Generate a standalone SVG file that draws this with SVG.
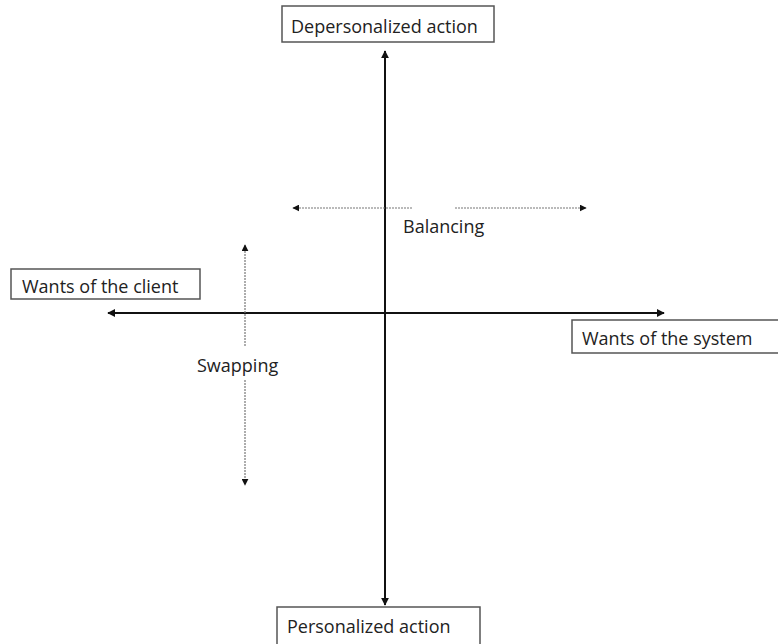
<svg xmlns="http://www.w3.org/2000/svg" width="778" height="644" viewBox="0 0 778 644">
<defs>
<style>
.box{fill:#fff;stroke:#555;stroke-width:1.5}
.lbl{font-family:"Open Sans","Noto Sans",sans-serif;font-size:18px;fill:#222}
.axis{stroke:#111;stroke-width:2;fill:none}
.thin{stroke:#777;stroke-width:1.2;stroke-dasharray:2 1;fill:none}
</style>
<marker id="ah" viewBox="0 0 10 10" refX="9" refY="5" markerWidth="8" markerHeight="8" markerUnits="userSpaceOnUse" orient="auto-start-reverse"><path d="M0,0 L10,5 L0,10 z" fill="#111"/></marker>
<marker id="ah2" viewBox="0 0 10 10" refX="9" refY="5" markerWidth="7" markerHeight="7" markerUnits="userSpaceOnUse" orient="auto-start-reverse"><path d="M0,0 L10,5 L0,10 z" fill="#111"/></marker>
</defs>
<rect width="778" height="644" fill="#fff"/>
<g id="connectors">
<line class="axis" x1="385" y1="51" x2="385" y2="605" marker-start="url(#ah)" marker-end="url(#ah)"/>
<line class="axis" x1="108" y1="313" x2="664" y2="313" marker-start="url(#ah)" marker-end="url(#ah)"/>
<line class="thin" x1="293" y1="208" x2="413" y2="208" marker-start="url(#ah2)"/>
<line class="thin" x1="455" y1="208" x2="586" y2="208" marker-end="url(#ah2)"/>
<line class="thin" x1="245" y1="245" x2="245" y2="347" marker-start="url(#ah2)"/>
<line class="thin" x1="245" y1="380" x2="245" y2="485" marker-end="url(#ah2)"/>
</g>
<g id="node-top">
<rect class="box" x="282" y="6" width="212" height="36"/>
<text class="lbl" x="291" y="33">Depersonalized action</text>
</g>
<g id="node-bottom">
<rect class="box" x="277" y="607" width="203" height="40"/>
<text class="lbl" x="287" y="633">Personalized action</text>
</g>
<g id="node-left">
<rect class="box" x="11" y="269" width="189" height="30"/>
<text class="lbl" x="22" y="293">Wants of the client</text>
</g>
<g id="node-right">
<rect class="box" x="572" y="320" width="210" height="33"/>
<text class="lbl" x="582" y="345">Wants of the system</text>
</g>
<g id="label-balancing">
<text class="lbl" x="403" y="233">Balancing</text>
</g>
<g id="label-swapping">
<text class="lbl" x="197" y="372">Swapping</text>
</g>
</svg>
